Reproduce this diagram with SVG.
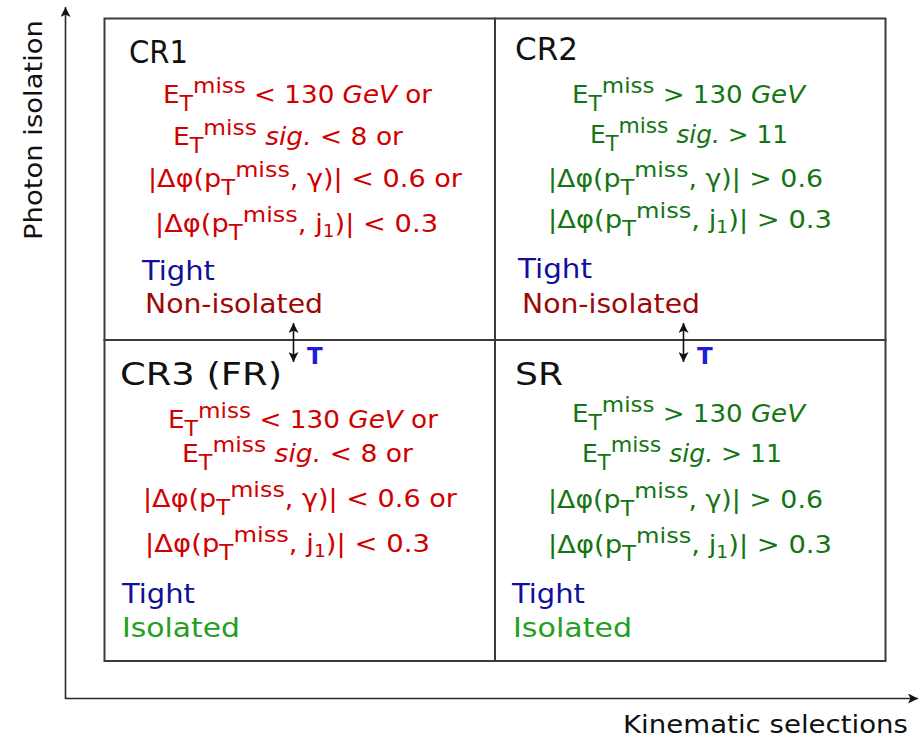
<svg xmlns="http://www.w3.org/2000/svg" width="920" height="738" viewBox="0 0 920 738">
<defs>
<marker id="ah" viewBox="0 0 10 10" refX="10" refY="5" markerWidth="10" markerHeight="10" markerUnits="userSpaceOnUse" orient="auto-start-reverse">
<path d="M0,0 L10,5 L0,10 L2.5,5 z" fill="#111"/>
</marker>
<style>
text{font-family:"DejaVu Sans","Open Sans",sans-serif;}
.cell{fill:#fff;stroke:#3a3a3a;stroke-width:2;}
.axis{stroke:#2a2a2a;stroke-width:1.6;fill:none;}
.conn{stroke:#111;stroke-width:1.6;fill:none;}
.title{font-size:32px;fill:#111;}
.c{font-size:25px;}
.sb{font-size:21px;}
.sp{font-size:22px;}
.s1{font-size:17px;}
.it{font-style:italic;}
.red{fill:#d00000;}
.grn{fill:#137513;}
.tight{font-size:27px;fill:#10109a;}
.noniso{font-size:27px;fill:#9c0808;}
.iso{font-size:27px;fill:#22a022;}
.tb{font-size:23px;font-weight:bold;fill:#1c1cdc;}
.lab{font-size:25px;fill:#111;}
</style>
</defs>

<g id="axes">
<line class="axis" x1="65.5" y1="699" x2="65.5" y2="7" marker-end="url(#ah)"/>
<line class="axis" x1="65" y1="698.5" x2="918" y2="698.5" marker-end="url(#ah)"/>
<text class="lab" x="42" y="240" transform="rotate(-90 42 240)" textLength="220" lengthAdjust="spacingAndGlyphs">Photon isolation</text>
<text class="lab" x="623" y="733" textLength="285" lengthAdjust="spacingAndGlyphs">Kinematic selections</text>
</g>

<g id="CR1">
<rect class="cell" x="104.5" y="18.5" width="390.5" height="321.5"/>
<text class="title" x="129" y="63" textLength="59" lengthAdjust="spacingAndGlyphs">CR1</text>
<text class="c red" x="163" y="103" textLength="269" lengthAdjust="spacingAndGlyphs">E<tspan class="sb" dy="8">T</tspan><tspan class="sp" dy="-18">miss</tspan><tspan dy="10"> &lt; 130 </tspan><tspan class="it">GeV</tspan> or</text>
<text class="c red" x="173" y="145" textLength="230" lengthAdjust="spacingAndGlyphs">E<tspan class="sb" dy="8">T</tspan><tspan class="sp" dy="-18">miss</tspan><tspan dy="10"> </tspan><tspan class="it">sig.</tspan> &lt; 8 or</text>
<text class="c red" x="148" y="187" textLength="314" lengthAdjust="spacingAndGlyphs">|Δφ(p<tspan class="sb" dy="8">T</tspan><tspan class="sp" dy="-18">miss</tspan><tspan dy="10">, γ)| &lt; 0.6 or</tspan></text>
<text class="c red" x="155" y="232" textLength="283" lengthAdjust="spacingAndGlyphs">|Δφ(p<tspan class="sb" dy="8">T</tspan><tspan class="sp" dy="-18">miss</tspan><tspan dy="10">, j</tspan><tspan class="s1" dy="5">1</tspan><tspan dy="-5">)| &lt; 0.3</tspan></text>
<text class="tight" x="142" y="280" textLength="73" lengthAdjust="spacingAndGlyphs">Tight</text>
<text class="noniso" x="145" y="313" textLength="178" lengthAdjust="spacingAndGlyphs">Non-isolated</text>
</g>

<g id="CR2">
<rect class="cell" x="495" y="18.5" width="390.5" height="321.5"/>
<text class="title" x="515" y="60" textLength="63" lengthAdjust="spacingAndGlyphs">CR2</text>
<text class="c grn" x="572" y="103" textLength="233" lengthAdjust="spacingAndGlyphs">E<tspan class="sb" dy="8">T</tspan><tspan class="sp" dy="-18">miss</tspan><tspan dy="10"> &gt; 130 </tspan><tspan class="it">GeV</tspan></text>
<text class="c grn" x="590" y="143" textLength="198" lengthAdjust="spacingAndGlyphs">E<tspan class="sb" dy="8">T</tspan><tspan class="sp" dy="-18">miss</tspan><tspan dy="10"> </tspan><tspan class="it">sig.</tspan> &gt; 11</text>
<text class="c grn" x="548" y="187" textLength="275" lengthAdjust="spacingAndGlyphs">|Δφ(p<tspan class="sb" dy="8">T</tspan><tspan class="sp" dy="-18">miss</tspan><tspan dy="10">, γ)| &gt; 0.6</tspan></text>
<text class="c grn" x="548" y="228" textLength="284" lengthAdjust="spacingAndGlyphs">|Δφ(p<tspan class="sb" dy="8">T</tspan><tspan class="sp" dy="-18">miss</tspan><tspan dy="10">, j</tspan><tspan class="s1" dy="5">1</tspan><tspan dy="-5">)| &gt; 0.3</tspan></text>
<text class="tight" x="518" y="278" textLength="74" lengthAdjust="spacingAndGlyphs">Tight</text>
<text class="noniso" x="522" y="313" textLength="178" lengthAdjust="spacingAndGlyphs">Non-isolated</text>
</g>

<g id="CR3">
<rect class="cell" x="104.5" y="340" width="390.5" height="321"/>
<text class="title" x="120" y="385" textLength="162" lengthAdjust="spacingAndGlyphs">CR3 (FR)</text>
<text class="c red" x="168" y="428" textLength="270" lengthAdjust="spacingAndGlyphs">E<tspan class="sb" dy="8">T</tspan><tspan class="sp" dy="-18">miss</tspan><tspan dy="10"> &lt; 130 </tspan><tspan class="it">GeV</tspan> or</text>
<text class="c red" x="182" y="462" textLength="231" lengthAdjust="spacingAndGlyphs">E<tspan class="sb" dy="8">T</tspan><tspan class="sp" dy="-18">miss</tspan><tspan dy="10"> </tspan><tspan class="it">sig.</tspan> &lt; 8 or</text>
<text class="c red" x="143" y="507" textLength="314" lengthAdjust="spacingAndGlyphs">|Δφ(p<tspan class="sb" dy="8">T</tspan><tspan class="sp" dy="-18">miss</tspan><tspan dy="10">, γ)| &lt; 0.6 or</tspan></text>
<text class="c red" x="145" y="552" textLength="285" lengthAdjust="spacingAndGlyphs">|Δφ(p<tspan class="sb" dy="8">T</tspan><tspan class="sp" dy="-18">miss</tspan><tspan dy="10">, j</tspan><tspan class="s1" dy="5">1</tspan><tspan dy="-5">)| &lt; 0.3</tspan></text>
<text class="tight" x="122" y="603" textLength="73" lengthAdjust="spacingAndGlyphs">Tight</text>
<text class="iso" x="122" y="637" textLength="118" lengthAdjust="spacingAndGlyphs">Isolated</text>
</g>

<g id="SR">
<rect class="cell" x="495" y="340" width="390.5" height="321"/>
<text class="title" x="515" y="385" textLength="48" lengthAdjust="spacingAndGlyphs">SR</text>
<text class="c grn" x="572" y="422" textLength="233" lengthAdjust="spacingAndGlyphs">E<tspan class="sb" dy="8">T</tspan><tspan class="sp" dy="-18">miss</tspan><tspan dy="10"> &gt; 130 </tspan><tspan class="it">GeV</tspan></text>
<text class="c grn" x="582" y="462" textLength="200" lengthAdjust="spacingAndGlyphs">E<tspan class="sb" dy="8">T</tspan><tspan class="sp" dy="-18">miss</tspan><tspan dy="10"> </tspan><tspan class="it">sig.</tspan> &gt; 11</text>
<text class="c grn" x="548" y="508" textLength="275" lengthAdjust="spacingAndGlyphs">|Δφ(p<tspan class="sb" dy="8">T</tspan><tspan class="sp" dy="-18">miss</tspan><tspan dy="10">, γ)| &gt; 0.6</tspan></text>
<text class="c grn" x="548" y="553" textLength="284" lengthAdjust="spacingAndGlyphs">|Δφ(p<tspan class="sb" dy="8">T</tspan><tspan class="sp" dy="-18">miss</tspan><tspan dy="10">, j</tspan><tspan class="s1" dy="5">1</tspan><tspan dy="-5">)| &gt; 0.3</tspan></text>
<text class="tight" x="512" y="603" textLength="73" lengthAdjust="spacingAndGlyphs">Tight</text>
<text class="iso" x="513" y="637" textLength="119" lengthAdjust="spacingAndGlyphs">Isolated</text>
</g>

<g id="connectors">
<line class="conn" x1="293.5" y1="323" x2="293.5" y2="362" marker-start="url(#ah)" marker-end="url(#ah)"/>
<text class="tb" x="307" y="364">T</text>
<line class="conn" x1="683.5" y1="323" x2="683.5" y2="362" marker-start="url(#ah)" marker-end="url(#ah)"/>
<text class="tb" x="697" y="364">T</text>
</g>
</svg>
